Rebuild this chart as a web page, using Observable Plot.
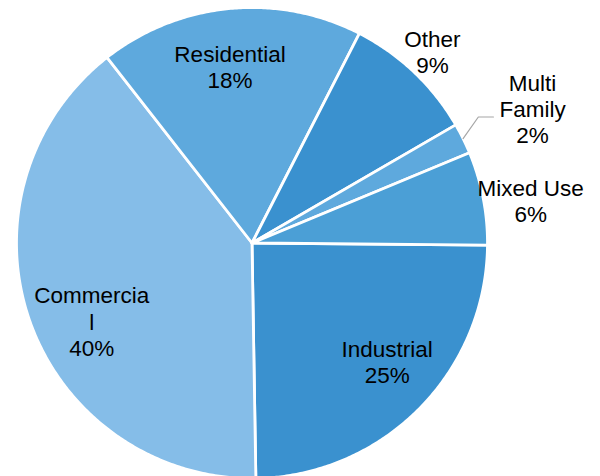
<!DOCTYPE html>
<html>
<head>
<meta charset="utf-8">
<script src="https://cdn.jsdelivr.net/npm/d3@7"></script>
<script src="https://cdn.jsdelivr.net/npm/@observablehq/plot@0.6"></script>
<style>
  html, body { margin: 0; padding: 0; background: #fff; }
  #chart svg { display: block; }
</style>
</head>
<body>
<div id="chart"></div>
<script>
// ---- data (clockwise, starting at ~3 o'clock) ----
const categories = ["Industrial", "Commercial", "Residential", "Other", "Multi Family", "Mixed Use"];
const values     = [24.6, 39.7, 18.1, 9.1, 2.1, 6.4];
const labelNames = ["Industrial", "Commercia\nl", "Residential", "Other", "Multi\nFamily", "Mixed Use"];

// ---- styles / layout ----
const colors = ["#3a91cf", "#85bde8", "#5ea9dd", "#3a91cf", "#5ea9dd", "#4b9fd6"];
const startDeg = 90.5;
// label placement: [angle in degrees clockwise from north, radius as fraction of pie radius]
const labelPolar = {
  "Industrial":   [131.2, 0.763],
  "Commercial":   [244.0, 0.757],
  "Residential":  [352.9, 0.755],
  "Other":        [43.3, 1.117],
  "Multi Family": [64.4, 1.321],
  "Mixed Use":    [81.4, 1.197]
};

const rad = (d) => d * Math.PI / 180;
const polar = (a, r) => ({x: r * Math.sin(a), y: r * Math.cos(a)});

const total = d3.sum(values);
const arcs = d3.pie().sort(null).value(d => d.value)
  .startAngle(rad(startDeg)).endAngle(rad(startDeg) + 2 * Math.PI)(
    categories.map((c, i) => ({cat: c, value: values[i], name: labelNames[i]}))
  );

// build polygon vertices for each slice from its angles
const slicePts = [];
for (const a of arcs) {
  const cat = a.data.cat;
  slicePts.push({cat, x: 0, y: 0});
  const n = Math.max(2, Math.ceil((a.endAngle - a.startAngle) / rad(0.5)));
  for (let k = 0; k <= n; k++) {
    const t = a.startAngle + (a.endAngle - a.startAngle) * k / n;
    slicePts.push({cat, ...polar(t, 1)});
  }
  slicePts.push({cat, x: 0, y: 0});
}

const labels = arcs.map(a => {
  const [deg, r] = labelPolar[a.data.cat];
  const p = polar(rad(deg), r);
  return {...p, text: a.data.name + "\n" + Math.round(a.data.value / total * 100) + "%"};
});

// leader line for Multi Family
const mf = arcs.find(a => a.data.cat === "Multi Family");
const mfMid = (mf.startAngle + mf.endAngle) / 2;
const p0 = polar(mfMid, 1.0);
const p1 = polar(rad(60.9), 1.10);
const leader = [p0, p1, {x: p1.x + 0.064, y: p1.y}];

const chart = Plot.plot({
  width: 600,
  height: 476,
  margin: 0,
  style: {background: "#fff", overflow: "visible"},
  x: {domain: [-1, 1], range: [16, 487], axis: null},
  y: {domain: [-1, 1], range: [478, 7], axis: null},
  color: {domain: categories, range: colors},
  marks: [
    Plot.line(slicePts, {x: "x", y: "y", z: "cat", fill: "cat", stroke: "#fff", strokeWidth: 2.8, strokeLinejoin: "round"}),
    Plot.line(leader, {x: "x", y: "y", stroke: "#a6a6a6", strokeWidth: 1.2}),
    Plot.text(labels, {
      x: "x", y: "y", text: "text",
      fontSize: 22.5, fontFamily: "'Liberation Sans', Arial, sans-serif",
      fill: "#000", textAnchor: "middle", lineAnchor: "middle", lineHeight: 1.16
    })
  ]
});
document.getElementById("chart").appendChild(chart);
</script>
</body>
</html>
